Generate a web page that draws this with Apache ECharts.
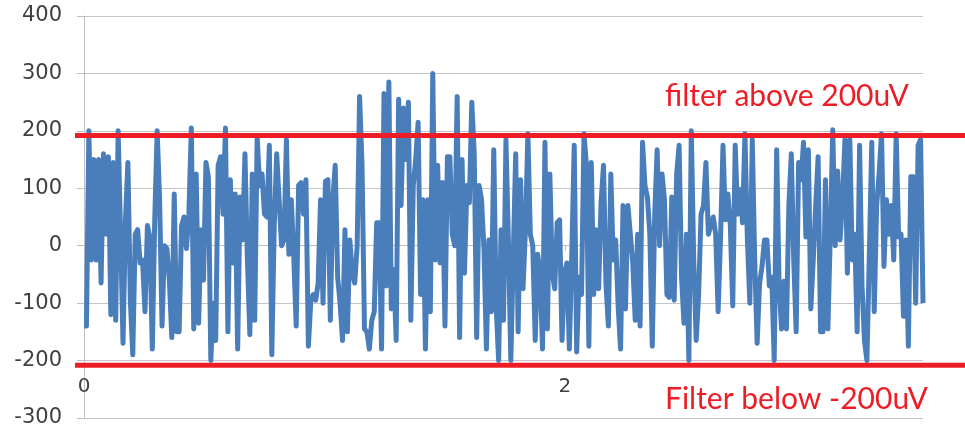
<!DOCTYPE html>
<html><head><meta charset="utf-8">
<script src="https://cdn.jsdelivr.net/npm/echarts@6/dist/echarts.min.js"></script>
<style>html,body{margin:0;padding:0;background:#fff}#c{width:965px;height:429px}</style>
</head><body><div id="c"></div>
<script>
// Signal samples (uV), read left to right from the picture
const segmentA = [-140,-140,200,-25,150,-25,150,-65,160,20,155,-120,145,-130,200,20,-170,45,145,-95,-190,20,28,-30,-25,-115,35,15,-180,45,200,80,-140,0,-5,-60,-160,90,-150,-150,35,50,-5,55,205,-145,125,-135,28,-60,145,120,-200,-100,-165,140,155,55,205,-150,115,-30,90,-180,85,10,160,-25,-155,125,-130,190,105,125,55,50,175,-190,35,160,80,0,10,185,-15,80,-20,-140,105,110,55,115,-175,-95,-85];
const segmentB = [-95,-65,80,-100,112,115,-130,80,140,-55,-100,-165,28,-150,10,-48,-65,0,260,140,-145,-150,-180,-130,-115,40,40,-180,265,-70,285,-110,-42,-165,255,70,240,150,250,-130,105,150,215,-85,80,-180,80,-115,300,-25,140,-30,110,-140,155,155,20,0,260,-160,150,-48,105,75,250,160,-160,105,80,-7,-180,10,-115,167,-105,-200,28,-130,185,10,-200,-20,160,-150,115,-75,28,195,20,0,-165,-15,-48,-180,180,-145,125,-48,-75,40,45,-165,-48,-30,-180,-15,175,-185,-55,-85,195,140,-175,145,-85,28,-75,75,140,-65,-140,125,-25,10,-105,-180,70,-110,70,20,-30,-130,20];
const segmentC = [-140,180,105,85,20,-175,55,167,0,125,80,-85,-90,85,-95,125,175,-55,-135,20,-200,200,-25,-165,-85,55,70,145,20,35,50,20,-115,15,175,45,90,35,-105,175,55,98,40,195,10,-100,185,-25,-170,-65,-36,10,10,-70,-55,-200,167,-70,-145,-62,-145,70,160,-25,-150,145,115,180,15,167,-110,-25,70,155,-150,-150,115,-145,20,202,0,130,10,80,185,-48,185,-25,20,-150,175,-70,-165,-200,-15,180,-115,70,125,195,-36,80,20,70,-25,195,15,20,-123,10,-175,120,120,-100,175,185,-100];
const xTickValues = [0, 2];
const X_END = 3.49;           // time of the last sample
const Y_MIN = -300, Y_MAX = 400, Y_STEP = 100;
const filterLevels = [192, -208];
const filterLabels = ['filter above 200uV', 'Filter below -200uV'];

const values = segmentA.concat(segmentB, segmentC);
const DT = X_END / (values.length - 1);
const points = values.map((v, i) => [i * DT, v]);

const chart = echarts.init(document.getElementById('c'), null, {renderer: 'canvas'});
chart.setOption({
  animation: false,
  grid: {left: 84, right: 42, top: 16, bottom: 11},
  xAxis: {
    type: 'value', min: 0, max: X_END, position: 'bottom', offset: -57,
    axisLine: {show: true, lineStyle: {color: '#bfbfbf', width: 1}},
    axisTick: {show: true, customValues: xTickValues, length: 5, lineStyle: {color: '#bfbfbf'}},
    axisLabel: {customValues: xTickValues, margin: 16, fontFamily: 'DejaVu Sans', fontSize: 20, color: '#404040'},
    splitLine: {show: false}
  },
  yAxis: {
    type: 'value', min: Y_MIN, max: Y_MAX, interval: Y_STEP,
    axisLine: {show: true, lineStyle: {color: '#bfbfbf'}},
    axisTick: {show: true, length: 7, lineStyle: {color: '#bfbfbf'}},
    axisLabel: {margin: 22, fontFamily: 'DejaVu Sans', fontSize: 21, color: '#404040'},
    splitLine: {show: true, lineStyle: {color: '#c4c4c4', width: 1}}
  },
  series: [{
    type: 'line', data: points, showSymbol: false, symbol: 'none',
    lineStyle: {color: '#4a7ebb', width: 5, join: 'round'}, itemStyle: {color: '#4a7ebb'}
  }]
});

const yTop = chart.convertToPixel({yAxisIndex: 0}, filterLevels[0]);
const yBot = chart.convertToPixel({yAxisIndex: 0}, filterLevels[1]);
const redStyle = {stroke: '#ee1c25', lineWidth: 5};
const textStyle = {fill: '#ee1c25', font: '30px Lato', textVerticalAlign: 'middle', textAlign: 'left'};
chart.setOption({
  graphic: [
    {type: 'line', z: 100, shape: {x1: 75, y1: yTop, x2: 965, y2: yTop}, style: redStyle},
    {type: 'line', z: 100, shape: {x1: 75, y1: yBot, x2: 965, y2: yBot}, style: redStyle},
    {type: 'text', z: 100, x: 665, y: 96, style: Object.assign({text: filterLabels[0]}, textStyle)},
    {type: 'text', z: 100, x: 665, y: 399, style: Object.assign({text: filterLabels[1]}, textStyle)}
  ]
});
</script></body></html>
